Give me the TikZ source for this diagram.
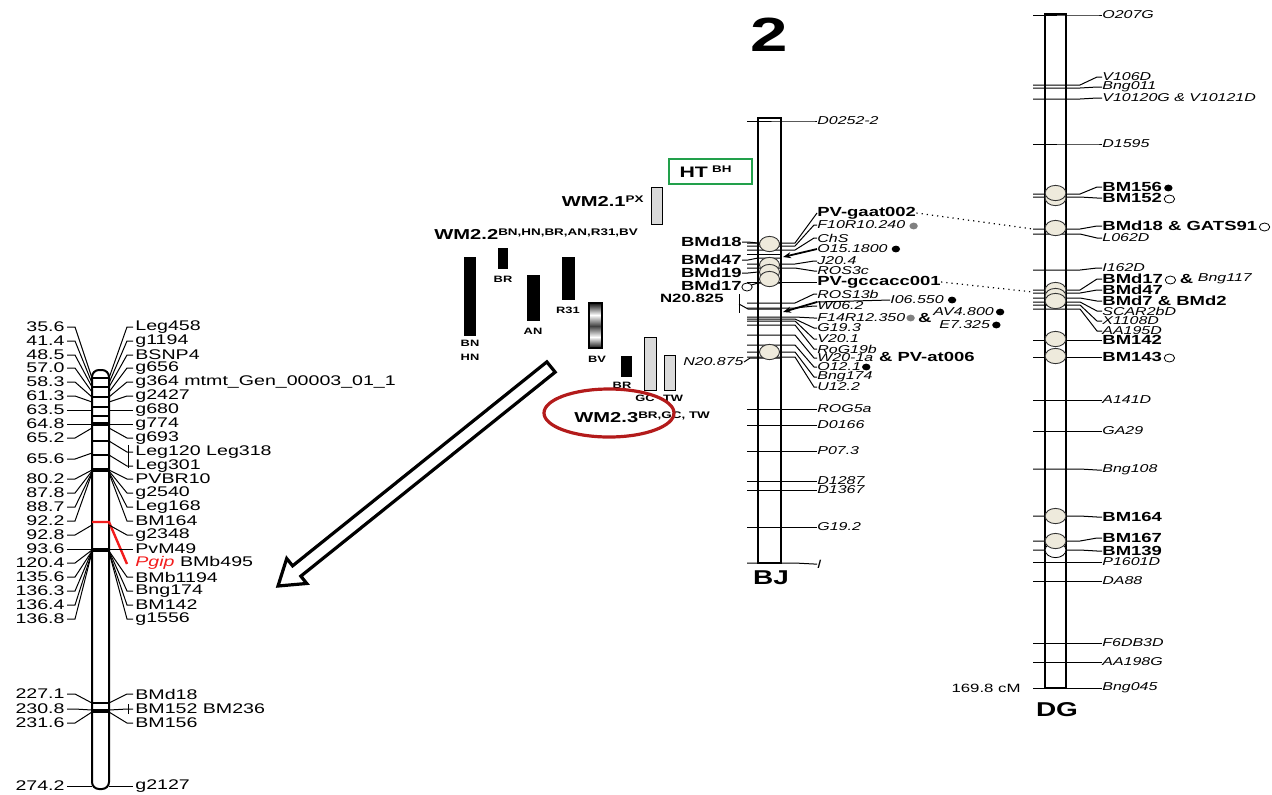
\documentclass[tikz,border=0pt]{standalone}
\usepackage{fontspec}
\setmainfont{Liberation Sans}[FakeStretch=1.4]
\usepackage{xcolor}
\usepackage{tikz}
\usetikzlibrary{calc, arrows.meta}
\definecolor{Bead}{HTML}{EEEADC}
\definecolor{QtlRed}{HTML}{B31B1B}
\definecolor{HtGreen}{HTML}{22A04B}
\definecolor{BarGrey}{HTML}{D9D9D9}
\definecolor{PgipRed}{HTML}{F21C1C}
\newcommand{\qsup}[1]{\raisebox{0.6ex}{\fontsize{4.8}{4.8}\selectfont\bfseries #1}}

\begin{document}
\begin{tikzpicture}[
    x=0.5pt, y=-0.5pt,
    mline/.style={line width=0.5pt},
    chrom/.style={draw, line width=1pt},
    band/.style={line width=0.6pt},
    lnum/.style={font=\fontsize{7}{7}\selectfont, inner sep=1pt, anchor=east},
    lname/.style={font=\fontsize{7}{7}\selectfont, inner sep=1pt, anchor=west},
    mk/.style={font=\fontsize{5.7}{5.7}\selectfont\itshape, inner sep=0pt, anchor=west},
    mkb/.style={font=\fontsize{6.6}{6.6}\selectfont\bfseries, inner sep=0pt, anchor=west},
    bead/.style={draw=black!80, fill=Bead, line width=0.45pt},
    opendot/.style={draw, fill=white, line width=0.4pt},
    qbar/.style={fill=black},
    gbar/.style={draw=black, fill=BarGrey, line width=0.5pt},
    qlab/.style={font=\fontsize{4.6}{4.6}\selectfont\bfseries, inner sep=0pt},
    wm/.style={font=\fontsize{7.2}{7.2}\selectfont\bfseries, inner sep=0pt},
    pointer/.style={line width=0.9pt, -{Stealth[length=4pt, width=3pt]}}
  ]
  \useasboundingbox (0,0) rectangle (1272,794);

  % left linkage group
  \draw[chrom, fill=white, rounded corners=3.5pt] (92,370) rectangle (109,789);
  \foreach \y in {378,387,397,407,416,441,455,703}
    \draw[band] (92,\y) -- (109,\y);
  \foreach \y in {424,470,550,711}
    \draw[line width=1.6pt] (92,\y) -- (109,\y);
  \draw[PgipRed, line width=1.2pt] (92,522) -- (109,522) -- (127,564);

  \foreach \yl/\yc/\lab in {327/378/35.6, 341/383/41.4, 355/387/48.5, 368/392/57.0,
      382/397/58.3, 396/402/61.3, 410/410/63.5, 424/424/64.8, 438/428/65.2,
      459/453/65.6, 479/470/80.2, 493/471/87.8, 507/472/88.7, 521/473/92.2,
      535/525/92.8, 549/549/93.6, 563/550/120.4, 577/551/135.6, 591/551/136.3,
      605/552/136.4, 619/552/136.8, 694/703/227.1, 709/710/230.8, 723/712/231.6,
      786/786/274.2}{
    \node[lnum] (n\yl) at (67,\yl) {\lab};
    \draw[mline] (n\yl.east) -- (75,\yl) -- (92,\yc);
  }
  \foreach \yl/\yc/\lab in {327/378/Leg458, 341/383/g1194, 355/387/BSNP4, 368/392/g656,
      382/397/{g364 mtmt\_Gen\_00003\_01\_1}, 396/402/g2427, 410/410/g680,
      424/424/g774, 438/428/g693, 452/441/{Leg120 Leg318}, 466/455/Leg301,
      479/470/PVBR10, 493/471/g2540, 507/472/Leg168, 521/473/BM164,
      535/525/g2348, 549/549/PvM49, 577/551/BMb1194, 591/551/Bng174,
      605/552/BM142, 619/552/g1556, 694/703/BMd18, 709/710/{BM152 BM236},
      723/712/BM156, 786/786/g2127}{
    \node[lname] (r\yl) at (133,\yl) {\lab};
    \draw[mline] (109,\yc) -- (127,\yl) -- (r\yl.west);
  }
  \node[lname] (r563) at (133,563) {\textcolor{PgipRed}{\itshape Pgip} BMb495};
  \draw[mline] (128,445) -- (128,468);
  \draw[mline] (128,704) -- (128,714);

  % zoom arrow
  \coordinate (arrT) at (551,367);
  \coordinate (arrH) at (278,586);
  \coordinate (neck) at ($(arrH)!12pt!(arrT)$);
  \draw[line width=1.6pt, fill=white, line join=miter]
    ($(arrT)!3.3pt!90:(arrH)$) -- ($(neck)!3.3pt!-90:(arrT)$) -- ($(neck)!8pt!-90:(arrT)$)
    -- (arrH) -- ($(neck)!8pt!90:(arrT)$) -- ($(neck)!3.3pt!90:(arrT)$)
    -- ($(arrT)!3.3pt!-90:(arrH)$) -- cycle;

  % QTL bars
  \node[draw=HtGreen, line width=1pt, minimum width=41.5pt, minimum height=12.5pt,
        inner sep=0pt, font=\fontsize{7.6}{7.6}\selectfont\bfseries]
        (ht) at (710.5,171.5) {HT\;\qsup{BH}\hspace*{5pt}};
  \draw[gbar] (651,187) rectangle (662,224);
  \node[wm, anchor=east] (wm21) at (644,201) {WM2.1\qsup{PX}};
  \node[wm, anchor=west] (wm22) at (434,234) {WM2.2\qsup{BN,HN,BR,AN,R31,BV}};
  \fill[qbar] (464,257) rectangle (476,336);
  \fill[qbar] (498,248) rectangle (508,269);
  \fill[qbar] (527,275) rectangle (540,321);
  \fill[qbar] (562,257) rectangle (575,300);
  \shade[top color=black!85, bottom color=white] (590,304) rectangle (601,315);
  \shade[top color=white, bottom color=black!75] (590,315) rectangle (601,326);
  \shade[top color=black!75, bottom color=white] (590,326) rectangle (601,337);
  \shade[top color=white, bottom color=black!85] (590,337) rectangle (601,347);
  \draw[line width=1pt] (589,303) rectangle (602,348);
  \fill[qbar] (621,356) rectangle (632,377);
  \draw[gbar] (644,337) rectangle (656,390);
  \draw[gbar] (664,355) rectangle (675,390);
  \node[qlab] (lbn) at (470,343) {BN};
  \node[qlab] (lhn) at (470,357) {HN};
  \node[qlab] (lbr) at (503,279) {BR};
  \node[qlab] (lan) at (533,331) {AN};
  \node[qlab] (lr31) at (568,310) {R31};
  \node[qlab] (lbv) at (597,359) {BV};
  \node[qlab] (lbr2) at (622,385) {BR};
  \node[qlab] (lgc) at (645,398) {GC};
  \node[qlab] (ltw) at (673,398) {TW};
  \node[wm, anchor=west] (wm23) at (574,417) {WM2.3\qsup{BR,GC, TW}};
  \draw[QtlRed, line width=1.6pt] (609,413) ellipse [x radius=32.5pt, y radius=12pt];

  % BJ
  \node[font=\fontsize{24}{24}\selectfont\bfseries] (chr2) at (769,35) {2};
  \foreach \yl/\yc/\lab in {121/121/D0252-2, 225/246/F10R10.240, 238/250/ChS,
      261/264/J20.4, 271/268/ROS3c, 294/303/ROS13b, 306/308/W06.2,
      318/317/F14R12.350, 328/319/G19.3, 339/321/V20.1, 349/325/RoG19b,
      358/335/W20-1a, 367/345/O12.1, 377/352/Bng174, 387/357/U12.2,
      409/409/ROG5a, 425/425/D0166, 451/451/P07.3, 481/481/D1287,
      490/490/D1367, 527/527/G19.2, 564/563/l}{
    \node[mk] (bj\yl) at (817,\yl) {\lab};
    \draw[mline] (747,\yc) -- (795,\yc) -- (814,\yl) -- (bj\yl.west);
  }
  \foreach \yl/\yc/\lab in {242/243/BMd18, 260/258/BMd47, 273/272/BMd19, 286/283/BMd17}{
    \node[mkb, anchor=east] (bjl\yl) at (742,\yl) {\lab};
    \draw[mline] (bjl\yl.east) -- (748,\yl) -- (758,\yc) -- (781,\yc);
  }
  \node[mkb] (pvg) at (817,213) {PV-gaat002};
  \draw[mline] (747,243) -- (795,243) -- (pvg.west);
  \node[mkb] (pvc) at (817,282) {PV-gccacc001};
  \draw[mline] (747,282) -- (pvc.west);
  \node[mk] (bj249) at (817,249) {O15.1800};
  \draw[mline] (747,254) -- (781,254);
  \draw[pointer] (bj249.west) -- (783,257);
  \node[mk] (bj300) at (890,300) {I06.550};
  \draw[mline] (bj300.west) -- (817,302);
  \draw[pointer] (817,302) -- (783,312);
  \node[font=\fontsize{6}{6}\selectfont\bfseries, anchor=east, inner sep=0pt] (n825) at (724,298) {N20.825};
  \draw[mline] (739,294) -- (739,313);
  \draw[mline] (739,304) -- (748,309) -- (781,309);
  \node[mk, anchor=east] (n875) at (744,362) {N20.875};
  \draw[mline] (n875.east) -- (750,358) -- (781,358);
  \node[mk] (av) at (933,312) {AV4.800};
  \node[mk] (e7) at (939,325) {E7.325};
  \node[mkb] (amp318) at ($(bj318.east)+(12,0)$) {\&};
  \node[mkb] (pvat) at ($(bj358.east)+(5,-1)$) {\& PV-at006};
  \draw[chrom] (758,118) rectangle (781,563);
  \foreach \y in {244,265,272,279,352}
    \draw[bead] (769.5,\y) ellipse [x radius=5pt, y radius=3.8pt];
  \draw[opendot] ($(bjl286.east)+(5,1)$) ellipse [x radius=2.6pt, y radius=2pt];
  \fill[gray] ($(bj225.east)+(8,1)$) ellipse [x radius=2.1pt, y radius=1.7pt];
  \fill ($(bj249.east)+(8,0)$) ellipse [x radius=2.1pt, y radius=1.7pt];
  \fill ($(bj300.east)+(8,0)$) ellipse [x radius=2.1pt, y radius=1.7pt];
  \fill[gray] ($(bj318.east)+(5,0)$) ellipse [x radius=2.1pt, y radius=1.7pt];
  \fill ($(av.east)+(6,0)$) ellipse [x radius=2.1pt, y radius=1.7pt];
  \fill ($(e7.east)+(6,0)$) ellipse [x radius=2.1pt, y radius=1.7pt];
  \fill ($(bj367.east)+(5,0)$) ellipse [x radius=2.1pt, y radius=1.7pt];
  \node[font=\fontsize{10}{10}\selectfont\bfseries] (bjname) at (771,578) {BJ};

  % DG
  \foreach \yl/\yc/\lab in {15/15/O207G, 77/85/V106D, 87/88/Bng011,
      98/99/{V10120G \& V10121D}, 144/144/D1595, 238/234/L062D, 268/270/I162D,
      311/302/SCAR2bD, 321/305/X1108D, 331/309/AA195D, 400/400/A141D,
      431/431/GA29, 470/469/Bng108, 562/562/P1601D, 581/581/DA88,
      643/643/F6DB3D, 662/662/AA198G, 688/688/Bng045}{
    \node[mk] (dg\yl) at (1102,\yl) {\lab};
    \draw[mline] (1033,\yc) -- (1080,\yc) -- (1097,\yl) -- (dg\yl.west);
  }
  \foreach \yl/\yc/\lab in {187/194/BM156, 198/197/BM152, 226/229/{BMd18 \& GATS91},
      279/290/BMd17, 290/293/BMd47, 301/298/{BMd7 \& BMd2}, 340/340/BM142,
      357/357/BM143, 517/516/BM164, 538/541/BM167, 551/550/BM139}{
    \node[mkb] (dgb\yl) at (1102,\yl) {\lab};
    \draw[mline] (1033,\yc) -- (1080,\yc) -- (1097,\yl) -- (dgb\yl.west);
  }
  \node[mkb] (amp279) at ($(dgb279.east)+(16,0)$) {\&};
  \node[mk] (bng117) at ($(amp279.east)+(4,0)$) {Bng117};
  \draw[chrom] (1045,14) rectangle (1066,688);
  \draw[bead] (1055.5,198) ellipse [x radius=5.2pt, y radius=3.8pt];
  \foreach \y in {193,228,290,296,301,339,356,516}
    \draw[bead] (1055.5,\y) ellipse [x radius=5.2pt, y radius=3.8pt];
  \draw[opendot] (1055.5,550) ellipse [x radius=5.2pt, y radius=3.8pt];
  \draw[bead] (1055.5,541) ellipse [x radius=5.2pt, y radius=3.8pt];
  \fill ($(dgb187.east)+(6,1)$) ellipse [x radius=2.1pt, y radius=1.7pt];
  \draw[opendot] ($(dgb198.east)+(7,1)$) ellipse [x radius=2.6pt, y radius=2pt];
  \draw[opendot] ($(dgb226.east)+(7,1)$) ellipse [x radius=2.6pt, y radius=2pt];
  \draw[opendot] ($(dgb279.east)+(7,1)$) ellipse [x radius=2.6pt, y radius=2pt];
  \draw[opendot] ($(dgb357.east)+(7,1)$) ellipse [x radius=2.6pt, y radius=2pt];
  \node[font=\fontsize{6}{6}\selectfont, anchor=east, inner sep=0pt] (cm) at (1021,688) {169.8 cM};
  \node[font=\fontsize{10}{10}\selectfont\bfseries] (dgname) at (1057,710) {DG};

  % links between maps
  \coordinate (dgBMd18) at (1033,229);
  \coordinate (dgBMd17) at (1033,292);
  \draw[dotted, line width=0.6pt] (pvg.east) -- (dgBMd18);
  \draw[dotted, line width=0.6pt] (pvc.east) -- (dgBMd17);
\end{tikzpicture}
\end{document}
